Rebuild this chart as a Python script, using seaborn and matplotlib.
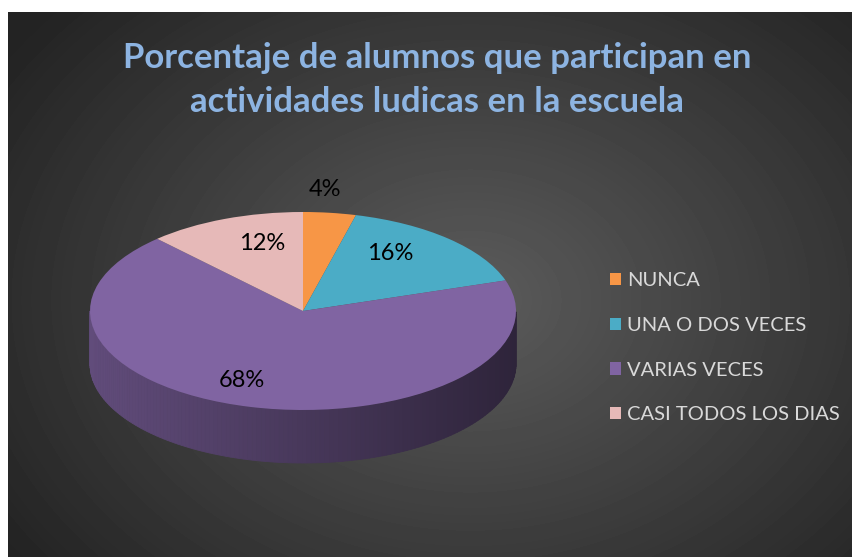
import numpy as np
import matplotlib
matplotlib.use("Agg")
import matplotlib.pyplot as plt
import seaborn as sns
from matplotlib.patches import Polygon

# --- Data ---
categories = ["NUNCA", "UNA O DOS VECES", "VARIAS VECES", "CASI TODOS LOS DIAS"]
percentages = [4, 16, 68, 12]
slice_colors = ["#F79646", "#4BACC6", "#8064A2", "#E6B9B8"]
title_lines = ["Porcentaje de alumnos que participan en",
               "actividades ludicas en la escuela"]

sns.set_theme(style="dark")
plt.rcParams['font.family'] = ['Lato', 'DejaVu Sans']

W, H = 852, 557
fig = plt.figure(figsize=(W / 100, H / 100), dpi=100, facecolor='white')


def px_box(x0, y0, x1, y1):
    return [x0 / W, 1 - y1 / H, (x1 - x0) / W, (y1 - y0) / H]


# --- Background: dark radial gradient ---
bg = fig.add_axes(px_box(8, 12, W, H))
yy, xx = np.mgrid[12:H, 8:W]
dist = np.hypot((xx - 470) / 560.0, (yy - 300) / 430.0)
shade = 0.36 - 0.22 * np.clip(dist, 0, 1)
bg.imshow(shade, cmap='gray', vmin=0, vmax=1, aspect='auto', interpolation='bilinear')
bg.axis('off')

# --- Pie (squashed to an ellipse through axis limits) ---
cx, cy, rx, ry, depth = 303, 311, 213, 99, 53
ax = fig.add_axes(px_box(60, 180, 546, 500))
ax.patch.set_alpha(0)
wedges, texts, autotexts = ax.pie(
    percentages, colors=slice_colors, startangle=90, counterclock=False,
    autopct='%1.0f%%', pctdistance=0.7,
    wedgeprops=dict(linewidth=0, zorder=3),
    textprops=dict(color='black', fontsize=17))
ax.set_aspect('auto')
ax.set_xlim((60 - cx) / rx, (546 - cx) / rx)
ax.set_ylim((cy - 500) / ry, (cy - 180) / ry)
ax.axis('off')

# side wall of the 3D pie
d = depth / ry
for w, col in zip(wedges, slice_colors):
    base = np.array(matplotlib.colors.to_rgb(col))
    ts = np.linspace(w.theta1, w.theta2, 200)
    for t0, t1 in zip(ts[:-1], ts[1:]):
        if np.sin(np.radians(t0)) > 0.001 or np.sin(np.radians(t1)) > 0.001:
            continue
        a0, a1 = np.radians(t0), np.radians(t1)
        f = 0.56 - 0.2 * np.cos((a0 + a1) / 2)
        pts = [(np.cos(a0), np.sin(a0)), (np.cos(a1), np.sin(a1)),
               (np.cos(a1), np.sin(a1) - d), (np.cos(a0), np.sin(a0) - d)]
        ax.add_patch(Polygon(pts, closed=True, facecolor=base * f,
                             edgecolor=base * f, linewidth=0.6, zorder=2))

# percentage labels (radius and small angle shift to mimic the perspective)
label_radius = [1.23, 0.71, 0.76, 0.71]
label_shift = [2.4, 7.9, -7.6, -6.0]
for w, t, r, s in zip(wedges, autotexts, label_radius, label_shift):
    mid = np.radians((w.theta1 + w.theta2) / 2 + s)
    t.set_position((r * np.cos(mid), r * np.sin(mid)))
    t.set_zorder(5)

# --- Title ---
for i, line in enumerate(title_lines):
    fig.text(437 / W, 1 - (58 + 44 * i) / H, line, ha='center', va='center',
             color='#8DB4E2', fontsize=25, fontweight='bold')

# --- Legend ---
leg = fig.legend(wedges, categories, loc='upper left',
                 bbox_to_anchor=(610 / W, 1 - 272 / H), frameon=False,
                 labelcolor='#D9D9D9', fontsize=14.5, handlelength=0.55,
                 handleheight=0.55, handletextpad=0.3, labelspacing=1.38,
                 borderpad=0, borderaxespad=0)

fig.savefig("out.png", dpi=100, facecolor='white')
